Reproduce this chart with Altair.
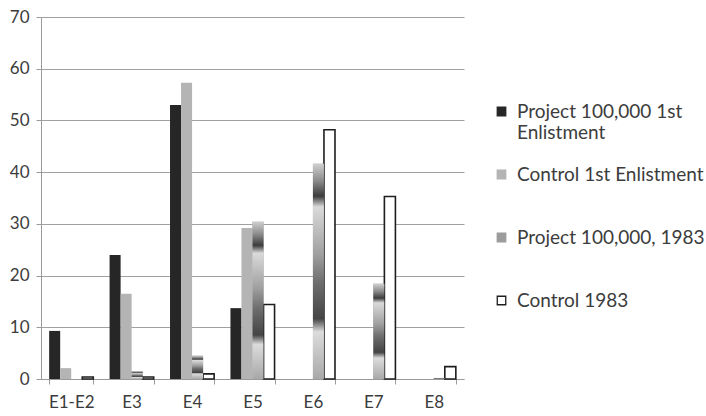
import altair as alt
import pandas as pd

# Pay grade groups and the four compared cohorts (percent of each cohort)
categories = ["E1-E2", "E3", "E4", "E5", "E6", "E7", "E8"]
series = [
    "Project 100,000 1st Enlistment",
    "Control 1st Enlistment",
    "Project 100,000, 1983",
    "Control 1983",
]
project_first = [9.3, 24.0, 53.0, 13.7, 0, 0, 0]
control_first = [2.1, 16.5, 57.3, 29.2, 0, 0, 0]
project_1983 = [0, 1.5, 4.5, 30.4, 41.6, 18.4, 0.2]
control_1983 = [0.4, 0.4, 1.0, 14.4, 48.2, 35.3, 2.4]

fills = ["#262626", "#b4b4b4", "#9c9c9c", "#ffffff"]
strokes = ["#262626", "#b4b4b4", "#9c9c9c", "#1e1e1e"]

rows = []
for name, vals in zip(series, [project_first, control_first, project_1983, control_1983]):
    for cat, v in zip(categories, vals):
        if v > 0:
            rows.append({"grade": cat, "series": name, "value": v})
df = pd.DataFrame(rows)

FONT = "Lato"
TEXT = "#3c3c3c"

# legend labels laid out on two lines so the entries sit evenly apart
legend_labels = (
    "datum.label == 'Project 100,000 1st Enlistment' ? ['Project 100,000 1st', 'Enlistment'] : "
    "datum.label == 'Control 1983' ? datum.label : [datum.label, '']"
)

base = alt.Chart(df).encode(
    x=alt.X(
        "grade:N",
        sort=categories,
        scale=alt.Scale(domain=categories, paddingInner=0.27, paddingOuter=0.135),
        axis=alt.Axis(
            title=None,
            labelAngle=0,
            tickBand="extent",
            tickSize=5,
            tickColor="#9a9a9a",
            domainColor="#9a9a9a",
            labelFontSize=17,
            labelColor=TEXT,
            labelPadding=10,
            labelFont=FONT,
            grid=False,
        ),
    ),
    xOffset=alt.XOffset(
        "series:N", sort=series, scale=alt.Scale(domain=series, paddingInner=0, paddingOuter=0)
    ),
    y=alt.Y(
        "value:Q",
        scale=alt.Scale(domain=[0, 70], nice=False),
        axis=alt.Axis(
            title=None,
            values=[0, 10, 20, 30, 40, 50, 60, 70],
            tickSize=5,
            tickColor="#9a9a9a",
            domainColor="#9a9a9a",
            gridColor="#a0a0a0",
            gridWidth=1,
            labelFontSize=17,
            labelColor=TEXT,
            labelPadding=7,
            labelFont=FONT,
        ),
    ),
)

bars = base.mark_bar().encode(
    color=alt.Color(
        "series:N",
        sort=series,
        scale=alt.Scale(domain=series, range=fills),
        legend=alt.Legend(
            title=None,
            orient="none",
            legendX=451,
            legendY=85,
            symbolType="square",
            symbolSize=72,
            symbolStrokeWidth=1.3,
            labelFontSize=19,
            labelFont=FONT,
            labelColor=TEXT,
            labelLimit=300,
            labelOffset=6,
            rowPadding=22,
            labelExpr=legend_labels,
        ),
    ),
    stroke=alt.Stroke("series:N", sort=series, scale=alt.Scale(domain=series, range=strokes)),
    strokeWidth=alt.condition(alt.datum.series == "Control 1983", alt.value(1.6), alt.value(0)),
)

# banded shading on the 1983 project cohort bars
banded = alt.Gradient(
    gradient="linear",
    x1=0, x2=0, y1=0, y2=1,
    stops=[
        alt.GradientStop(offset=0.0, color="#cfcfcf"),
        alt.GradientStop(offset=0.08, color="#8a8a8a"),
        alt.GradientStop(offset=0.15, color="#3c3c3c"),
        alt.GradientStop(offset=0.2, color="#dadada"),
        alt.GradientStop(offset=0.42, color="#a0a0a0"),
        alt.GradientStop(offset=0.55, color="#6e6e6e"),
        alt.GradientStop(offset=0.72, color="#444444"),
        alt.GradientStop(offset=0.78, color="#dcdcdc"),
        alt.GradientStop(offset=1.0, color="#a8a8a8"),
    ],
)
shaded = base.transform_filter(alt.datum.series == "Project 100,000, 1983").mark_bar(fill=banded)

chart = (
    alt.layer(bars, shaded)
    .properties(
        width=423,
        height=362,
        padding={"left": 41, "top": 17, "right": 242, "bottom": 37},
        autosize=alt.AutoSizeParams(type="none"),
        background="white",
    )
    .configure_view(stroke=None)
)

chart.save("out.html", embed_options={"renderer": "svg", "actions": False})
